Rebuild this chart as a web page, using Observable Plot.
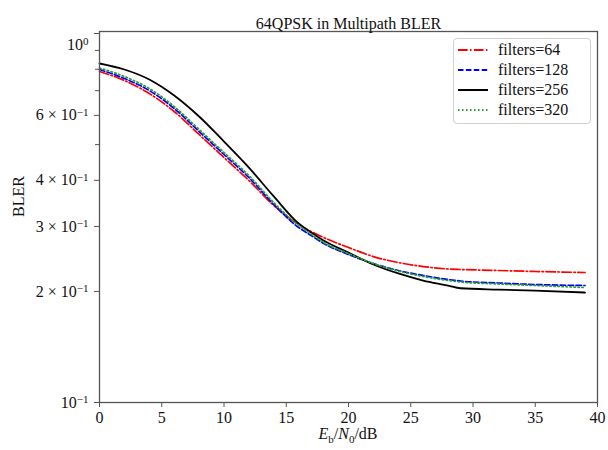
<!DOCTYPE html>
<html><head><meta charset="utf-8">
<script src="https://cdn.jsdelivr.net/npm/d3@7"></script>
<script src="https://cdn.jsdelivr.net/npm/@observablehq/plot@0.6"></script>
<style>
body{margin:0;background:#fff;}
#wrap{position:relative;width:608px;height:450px;font-family:"Liberation Serif","Times New Roman",serif;}
#legend{position:absolute;left:453px;top:38px;width:136px;height:84px;border:1px solid #d0d0d0;border-radius:4px;background:rgba(255,255,255,0.85);font-size:16px;color:#111;}
#legend .row{position:absolute;left:0;height:20px;display:flex;align-items:center;}
#legend svg{margin-left:4px;margin-right:10px;}
</style></head><body><div id="wrap"><div id="legend"></div></div>
<script>
const snr = [0,2,4,6,8,10,12,14,16,17,18,20,22,24,26,28,29,32,35,39];
const bler64  = [0.7889,0.7458,0.6876,0.6146,0.5325,0.4613,0.3996,0.3419,0.3037,0.2906,0.2800,0.2630,0.2486,0.2395,0.2336,0.2300,0.2293,0.2279,0.2265,0.2251];
const bler128 = [0.7988,0.7552,0.7006,0.6262,0.5425,0.4700,0.4071,0.3440,0.2980,0.2835,0.2698,0.2518,0.2380,0.2279,0.2209,0.2154,0.2134,0.2108,0.2088,0.2075];
const bler256 = [0.8293,0.7988,0.7505,0.6791,0.5957,0.5097,0.4333,0.3617,0.3055,0.2889,0.2748,0.2549,0.2366,0.2237,0.2141,0.2075,0.2040,0.2023,0.2011,0.1986];
const bler320 = [0.8063,0.7647,0.7094,0.6340,0.5494,0.4759,0.4122,0.3483,0.3018,0.2862,0.2714,0.2533,0.2380,0.2272,0.2196,0.2141,0.2121,0.2095,0.2075,0.2049];
const seriesNames = ["filters=64","filters=128","filters=256","filters=320"];
const seriesColors = ["#ff0000","#0000ff","#000000","#2ca02c"];
const seriesDash = ["9.6,2.4,1.5,2.4","5.5,2.4",null,"1.5,2.5"];
const xTicks = [0,5,10,15,20,25,30,35,40];
const yMajor = [1,0.6,0.4,0.3,0.2,0.1];
const yMajorLabels = ["10^0","6 \u00d7 10^\u22121","4 \u00d7 10^\u22121","3 \u00d7 10^\u22121","2 \u00d7 10^\u22121","10^\u22121"];
const yMinor = [0.9,0.8,0.7,0.5];
const titleText = "64QPSK in Multipath BLER";
const yLabel = "BLER";

const allSeries = [bler64, bler128, bler256, bler320];
const lineMarks = allSeries.map((vals, i) => Plot.line(snr.map((x, j) => ({x, y: vals[j]})), {
  x: "x", y: "y", stroke: seriesColors[i], strokeWidth: i === 2 ? 1.8 : 1.7,
  strokeDasharray: seriesDash[i], curve: "monotone-x"
}));

const chart = Plot.plot({
  width: 608, height: 450,
  marginTop: 31, marginBottom: 48, marginLeft: 99, marginRight: 11,
  style: {fontFamily: '"Liberation Serif","Times New Roman",serif', fontSize: "16px", color: "#111", background: "transparent"},
  x: {domain: [0, 40]},
  y: {type: "log", domain: [0.1, 1.0126]},
  marks: [
    Plot.axisX({ticks: xTicks, tickSize: 5, tickPadding: 4, label: null, fontSize: 16, stroke: "#555"}),
    Plot.axisY({ticks: yMinor, tickSize: 4, tickFormat: () => "", label: null, stroke: "#555"}),
    Plot.axisY({ticks: yMajor, tickSize: 5, tickPadding: 6, label: null, fontSize: 16, stroke: "#555",
      tickFormat: d => yMajorLabels[yMajor.indexOf(d)]}),
    ...lineMarks,
    Plot.frame({stroke: "#555", strokeWidth: 1.3}),
    Plot.text([titleText], {frameAnchor: "top", dy: -14, fontSize: 16, fill: "#111"}),
    Plot.text([yLabel], {frameAnchor: "left", dx: -81, rotate: -90, fontSize: 16, fill: "#111"})
  ]
});
document.getElementById("wrap").prepend(chart);
const svg = d3.select(chart);

// rebuild y tick labels with real superscripts
svg.selectAll("text").each(function() {
  const t = this.textContent;
  if (!t.includes("^")) return;
  const [base, exp] = t.split("^");
  const el = d3.select(this);
  el.text(null);
  el.append("tspan").text(base);
  el.append("tspan").attr("dy", "-0.45em").attr("font-size", 11).text(exp);
  if (t === "10^0") el.attr("dy", "0.7em");
});

// x-axis label with italic symbols and subscripts
const xl = svg.append("text").attr("x", 348).attr("y", 439).attr("text-anchor", "middle")
  .attr("font-size", 16).attr("fill", "#111");
xl.append("tspan").attr("font-style", "italic").text("E");
xl.append("tspan").attr("font-size", 11).attr("dy", 4).text("b");
xl.append("tspan").attr("dy", -4).text("/");
xl.append("tspan").attr("font-style", "italic").text("N");
xl.append("tspan").attr("font-size", 11).attr("dy", 4).text("0");
xl.append("tspan").attr("dy", -4).text("/dB");

// legend
const legend = d3.select("#legend");
seriesNames.forEach((name, i) => {
  const row = legend.append("div").attr("class", "row").style("top", (1 + i * 20) + "px");
  const s = row.append("svg").attr("width", 30).attr("height", 20);
  s.append("line").attr("x1", 0).attr("x2", 30).attr("y1", 10).attr("y2", 10)
    .attr("stroke", seriesColors[i]).attr("stroke-width", i === 2 ? 2 : 1.8)
    .attr("stroke-dasharray", seriesDash[i]);
  row.append("span").text(name);
});
</script></body></html>
